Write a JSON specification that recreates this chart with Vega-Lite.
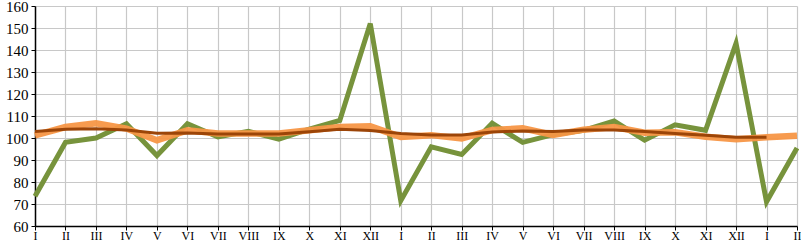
{
  "$schema": "https://vega.github.io/schema/vega-lite/v6.json",
  "width": 762,
  "height": 220,
  "autosize": {"type": "none"},
  "padding": {"left": 35, "top": 6, "right": 4, "bottom": 16},
  "background": "white",
  "config": {"view": {"stroke": null}},
  "data": {"values": [
    {"i":0,"s":"g","v":73.5},{"i":1,"s":"g","v":98},{"i":2,"s":"g","v":100},{"i":3,"s":"g","v":106.5},{"i":4,"s":"g","v":92},{"i":5,"s":"g","v":106.5},{"i":6,"s":"g","v":100.5},{"i":7,"s":"g","v":103},{"i":8,"s":"g","v":99.5},{"i":9,"s":"g","v":104},{"i":10,"s":"g","v":108},{"i":11,"s":"g","v":152},{"i":12,"s":"g","v":71.5},{"i":13,"s":"g","v":96},{"i":14,"s":"g","v":92.5},{"i":15,"s":"g","v":106.7},{"i":16,"s":"g","v":98},{"i":17,"s":"g","v":101.5},{"i":18,"s":"g","v":103.5},{"i":19,"s":"g","v":107.7},{"i":20,"s":"g","v":99},{"i":21,"s":"g","v":106},{"i":22,"s":"g","v":103.5},{"i":23,"s":"g","v":143},{"i":24,"s":"g","v":71},{"i":25,"s":"g","v":95.5},
    {"i":0,"s":"o","v":101.2},{"i":1,"s":"o","v":105},{"i":2,"s":"o","v":106.7},{"i":3,"s":"o","v":104.3},{"i":4,"s":"o","v":99},{"i":5,"s":"o","v":103.5},{"i":6,"s":"o","v":102},{"i":7,"s":"o","v":102},{"i":8,"s":"o","v":102},{"i":9,"s":"o","v":103.5},{"i":10,"s":"o","v":105},{"i":11,"s":"o","v":105.3},{"i":12,"s":"o","v":100.5},{"i":13,"s":"o","v":101.3},{"i":14,"s":"o","v":99.8},{"i":15,"s":"o","v":103.6},{"i":16,"s":"o","v":104.4},{"i":17,"s":"o","v":101.4},{"i":18,"s":"o","v":103.8},{"i":19,"s":"o","v":105},{"i":20,"s":"o","v":102.4},{"i":21,"s":"o","v":102.6},{"i":22,"s":"o","v":100.6},{"i":23,"s":"o","v":99.4},{"i":24,"s":"o","v":100.3},{"i":25,"s":"o","v":101},
    {"i":0,"s":"b","v":102.9},{"i":1,"s":"b","v":104},{"i":2,"s":"b","v":104.2},{"i":3,"s":"b","v":103.6},{"i":4,"s":"b","v":102.2},{"i":5,"s":"b","v":102.3},{"i":6,"s":"b","v":101.8},{"i":7,"s":"b","v":101.8},{"i":8,"s":"b","v":101.8},{"i":9,"s":"b","v":102.8},{"i":10,"s":"b","v":104},{"i":11,"s":"b","v":103.4},{"i":12,"s":"b","v":102},{"i":13,"s":"b","v":101.4},{"i":14,"s":"b","v":101.4},{"i":15,"s":"b","v":102.7},{"i":16,"s":"b","v":103.2},{"i":17,"s":"b","v":103},{"i":18,"s":"b","v":103.6},{"i":19,"s":"b","v":103.6},{"i":20,"s":"b","v":102.9},{"i":21,"s":"b","v":102.1},{"i":22,"s":"b","v":101.2},{"i":23,"s":"b","v":100.3},{"i":24,"s":"b","v":100.3}
  ]},
  "encoding": {
    "x": {
      "field": "i", "type": "ordinal",
      "scale": {"type": "point", "padding": 0},
      "axis": {
        "title": null,
        "labelExpr": "['I','II','III','IV','V','VI','VII','VIII','IX','X','XI','XII','I','II','III','IV','V','VI','VII','VIII','IX','X','XI','XII','I','II'][datum.value]",
        "labelAngle": 0,
        "labelFont": "Liberation Serif",
        "labelFontSize": 12,
        "labelColor": "#000000",
        "labelPadding": 0,
        "labelOverlap": false,
        "labelBound": false,
        "domainColor": "#000000",
        "domainWidth": 1.5,
        "tickColor": "#000000",
        "tickSize": 4,
        "grid": true,
        "gridColor": "#C8C8C8",
        "gridWidth": 1.2
      }
    },
    "y": {
      "field": "v", "type": "quantitative",
      "scale": {"domain": [60, 160], "nice": false, "zero": false},
      "axis": {
        "title": null,
        "values": [60,70,80,90,100,110,120,130,140,150,160],
        "labelFont": "Liberation Serif",
        "labelFontSize": 15,
        "labelColor": "#000000",
        "labelPadding": 3,
        "labelOverlap": false,
        "labelFlush": false,
        "labelBound": false,
        "domainColor": "#000000",
        "domainWidth": 1.5,
        "tickColor": "#000000",
        "tickSize": 4,
        "grid": true,
        "gridColor": "#C8C8C8",
        "gridWidth": 1.2
      }
    }
  },
  "layer": [
    {
      "transform": [{"filter": "datum.s === 'g'"}],
      "mark": {"type": "line", "color": "#77933C", "strokeWidth": 5, "strokeJoin": "miter"}
    },
    {
      "transform": [{"filter": "datum.s === 'o'"}],
      "mark": {"type": "line", "color": "#F79646", "strokeWidth": 6.5, "opacity": 0.95}
    },
    {
      "transform": [{"filter": "datum.s === 'b'"}],
      "mark": {"type": "line", "color": "#9C4508", "strokeWidth": 3}
    }
  ]
}
